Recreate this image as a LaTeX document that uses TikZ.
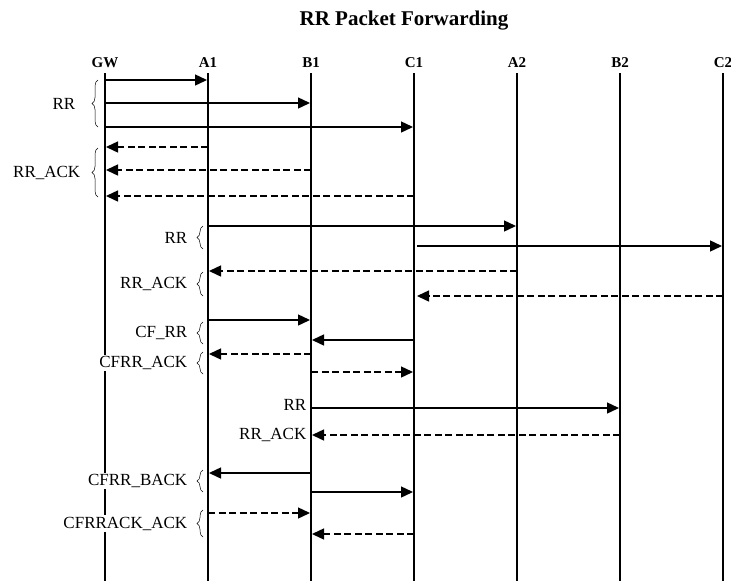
\documentclass[tikz,border=0pt]{standalone}
\usepackage{fontspec}
\setmainfont{Liberation Serif}
\usetikzlibrary{arrows.meta, positioning, calc, decorations.pathreplacing}

\begin{document}
\begin{tikzpicture}[
    x=1pt, y=-1pt,
    head/.style={font=\fontsize{15}{18}\selectfont\bfseries, inner sep=1pt},
    lbl/.style={font=\fontsize{17}{20}\selectfont, fill=white, inner sep=1.5pt},
    life/.style={line width=2.6pt, draw=black},
    msg/.style={-{Triangle[length=12pt,width=11pt]}, line width=1.4pt, shorten >=1pt},
    ack/.style={msg, dash pattern=on 7pt off 3.5pt},
    grp/.style={decorate, decoration={brace, amplitude=6pt}, line width=0.5pt}
]
\useasboundingbox (0,0) rectangle (731,581);

% Title
\node[font=\fontsize{21}{25}\selectfont\bfseries] (title) at (404,21) {RR Packet Forwarding};

% Lifelines
\node[head] (gw) at (105,63) {GW};
\node[head] (a1) at (208,63) {A1};
\node[head] (b1) at (311,63) {B1};
\node[head] (c1) at (414,63) {C1};
\node[head] (a2) at (517,63) {A2};
\node[head] (b2) at (620,63) {B2};
\node[head] (c2) at (723,63) {C2};
\foreach \n in {gw,a1,b1,c1,a2,b2,c2}
    \draw[life] (\n |- 0,73) -- (\n |- 0,581);

% Gateway round
\draw[msg] (gw |- 0,80) -- (a1 |- 0,80);
\draw[msg] (gw |- 0,103) -- (b1 |- 0,103);
\draw[msg] (gw |- 0,127) -- (c1 |- 0,127);
\draw[ack] (a1 |- 0,147) -- (gw |- 0,147);
\draw[ack] (b1 |- 0,170) -- (gw |- 0,170);
\draw[ack] (c1 |- 0,196) -- (gw |- 0,196);
\draw[grp] ($(gw |- 0,127)+(-7,0)$) -- node[lbl, left=21pt] (grr) {RR} ($(gw |- 0,80)+(-7,0)$);
\draw[grp] ($(gw |- 0,197)+(-7,0)$) -- node[lbl, left=16pt] (grrack) {RR\_ACK} ($(gw |- 0,148)+(-7,0)$);

% Second hop
\draw[msg] (a1 |- 0,226) -- (a2 |- 0,226);
\draw[msg, shorten <=3pt] (c1 |- 0,246) -- (c2 |- 0,246);
\draw[ack] (a2 |- 0,271) -- (a1 |- 0,271);
\draw[ack, shorten >=3pt] (c2 |- 0,296) -- (c1 |- 0,296);
\draw[grp] ($(a1 |- 0,249)+(-5,0)$) -- node[lbl, left=14pt] (arr) {RR} ($(a1 |- 0,226)+(-5,0)$);
\draw[grp] ($(a1 |- 0,296)+(-5,0)$) -- node[lbl, left=14pt] (arrack) {RR\_ACK} ($(a1 |- 0,272)+(-5,0)$);

% Cluster forwarding
\draw[msg] (a1 |- 0,320) -- (b1 |- 0,320);
\draw[msg] (c1 |- 0,340) -- (b1 |- 0,340);
\draw[ack] (b1 |- 0,354) -- (a1 |- 0,354);
\draw[ack] (b1 |- 0,372) -- (c1 |- 0,372);
\draw[grp] ($(a1 |- 0,344)+(-5,0)$) -- node[lbl, left=14pt] (cfrr) {CF\_RR} ($(a1 |- 0,322)+(-5,0)$);
\draw[grp] ($(a1 |- 0,374)+(-5,0)$) -- node[lbl, left=14pt] (cfrrack) {CFRR\_ACK} ($(a1 |- 0,352)+(-5,0)$);

% B1 to B2
\draw[msg] (b1 |- 0,408) -- (b2 |- 0,408);
\draw[ack] (b2 |- 0,435) -- (b1 |- 0,435);
\node[lbl, anchor=east] (brr) at ($(b1 |- 0,405)+(-3,0)$) {RR};
\node[lbl, anchor=east] (brrack) at ($(b1 |- 0,435)+(-3,0)$) {RR\_ACK};

% Back forwarding
\draw[msg] (b1 |- 0,473) -- (a1 |- 0,473);
\draw[msg] (b1 |- 0,492) -- (c1 |- 0,492);
\draw[ack] (a1 |- 0,513) -- (b1 |- 0,513);
\draw[ack] (c1 |- 0,534) -- (b1 |- 0,534);
\draw[grp] ($(a1 |- 0,492)+(-5,0)$) -- node[lbl, left=14pt] (cfrrback) {CFRR\_BACK} ($(a1 |- 0,470)+(-5,0)$);
\draw[grp] ($(a1 |- 0,537)+(-5,0)$) -- node[lbl, left=14pt] (cfrrackack) {CFRRACK\_ACK} ($(a1 |- 0,510)+(-5,0)$);

\end{tikzpicture}
\end{document}
